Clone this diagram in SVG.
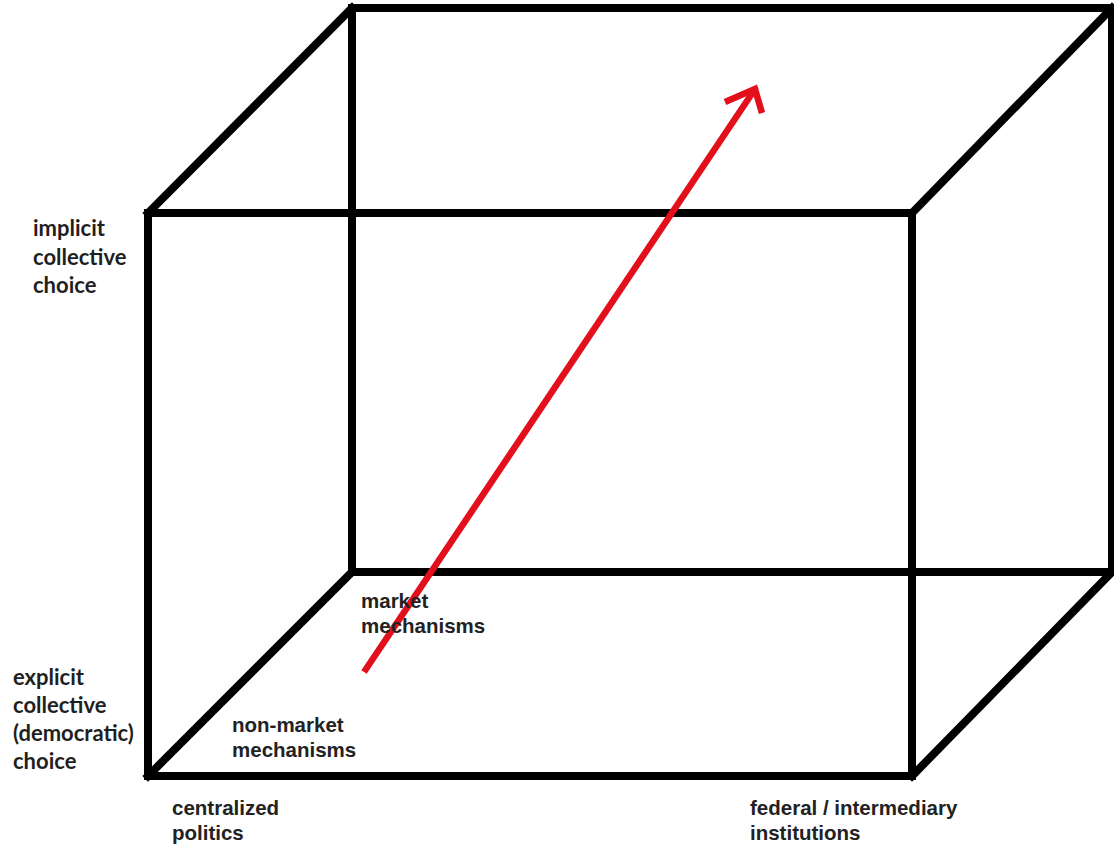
<svg xmlns="http://www.w3.org/2000/svg" width="1114" height="846" viewBox="0 0 1114 846">
<defs>
<style>
.edge{fill:none;stroke:#000;stroke-width:8;stroke-linejoin:miter;stroke-linecap:square}
.arrow{fill:none;stroke:#e3101c;stroke-width:6.5;stroke-linejoin:miter}
.side{font-family:Lato,"Liberation Sans",sans-serif;font-weight:bold;font-size:22px;fill:#1f1f1f}
.lbl{font-family:"Liberation Sans",Arial,sans-serif;font-weight:bold;font-size:20.5px;fill:#222}
</style>
</defs>
<rect width="1114" height="846" fill="#fff"/>
<g id="box">
<path class="edge" d="M352,8 H1112 V572 H352 Z"/>
<path class="edge" d="M148,213 H912 V776 H148 Z"/>
</g>
<g id="connectors">
<line class="edge" x1="148" y1="213" x2="352" y2="8"/>
<line class="edge" x1="912" y1="213" x2="1112" y2="8"/>
<line class="edge" x1="148" y1="776" x2="352" y2="572"/>
<line class="edge" x1="912" y1="776" x2="1112" y2="572"/>
<g id="red-arrow">
<line class="arrow" x1="364" y1="672" x2="753" y2="92"/>
<polyline class="arrow" points="725,102 755,89 762,113"/>
</g>
</g>
<g id="label-implicit">
<text class="side" x="33" y="236">implicit</text>
<text class="side" x="33" y="265">collective</text>
<text class="side" x="33" y="293">choice</text>
</g>
<g id="label-explicit">
<text class="side" x="13" y="685">explicit</text>
<text class="side" x="13" y="713">collective</text>
<text class="side" x="13" y="741">(democratic)</text>
<text class="side" x="13" y="769">choice</text>
</g>
<g id="label-market">
<text class="lbl" x="361" y="608">market</text>
<text class="lbl" x="361" y="633">mechanisms</text>
</g>
<g id="label-nonmarket">
<text class="lbl" x="232" y="732">non-market</text>
<text class="lbl" x="232" y="757">mechanisms</text>
</g>
<g id="label-centralized">
<text class="lbl" x="172" y="815">centralized</text>
<text class="lbl" x="172" y="840">politics</text>
</g>
<g id="label-federal">
<text class="lbl" x="750" y="815">federal / intermediary</text>
<text class="lbl" x="750" y="840">institutions</text>
</g>
</svg>
